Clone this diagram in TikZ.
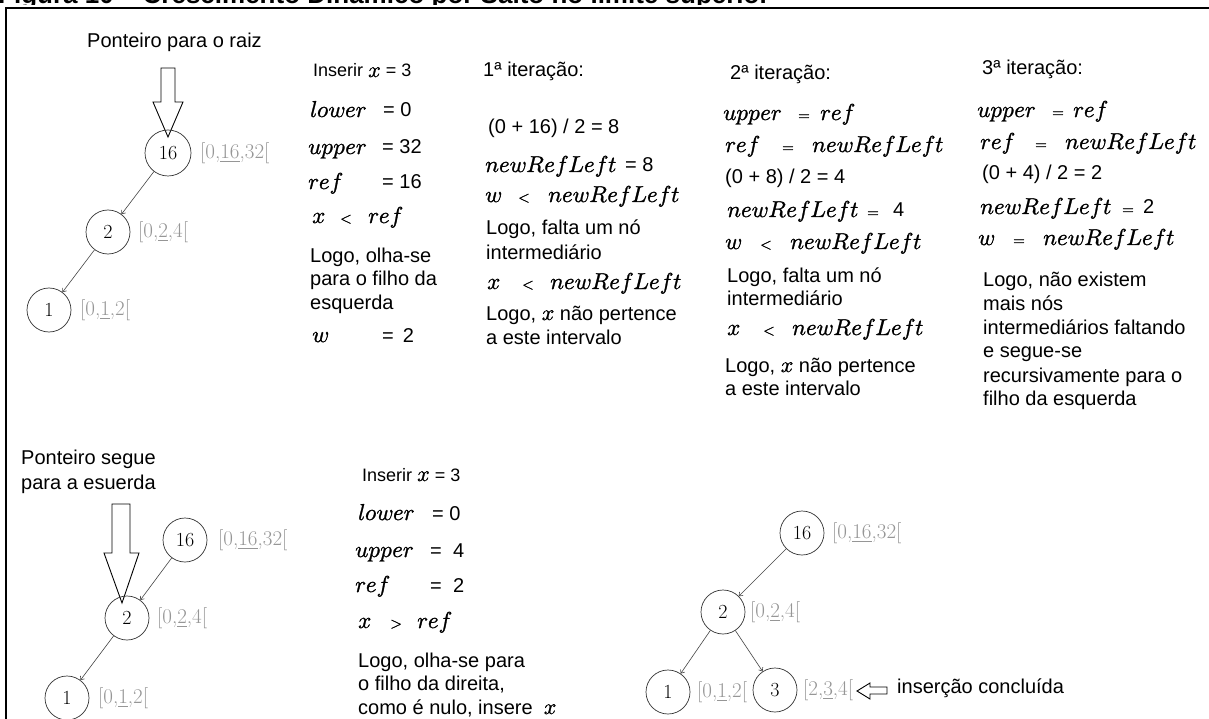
\documentclass[tikz,border=0pt]{standalone}
\usepackage{fontspec}
\usepackage{unicode-math}
\setmathfont{Latin Modern Math}[FakeBold=1.2]
\newfontfamily\arial{Liberation Sans}
\usetikzlibrary{arrows.meta}
\definecolor{lbl}{RGB}{150,150,150}
\definecolor{edgec}{RGB}{70,70,70}
\newcommand\mx{{\fontsize{22}{22}\selectfont$x$}}
\tikzset{
  txt/.style={anchor=base west, inner sep=0pt, font=\arial\fontsize{20}{23}\selectfont},
  smalltxt/.style={anchor=base west, inner sep=0pt, font=\arial\fontsize{18}{21}\selectfont},
  mth/.style={anchor=base west, inner sep=0pt, font=\fontsize{23}{27}\selectfont},
  rel/.style={anchor=base west, inner sep=0pt, font=\fontsize{15}{18}\selectfont},
  tnode/.style={circle, draw=black!80, line width=0.7pt, minimum size=44pt, inner sep=0pt, font=\fontsize{20}{24}\selectfont},
  lab/.style={anchor=west, inner sep=0pt, text=lbl, font=\fontsize{21}{24}\selectfont},
  edg/.style={draw=edgec, line width=0.6pt, -{Straight Barb[length=3pt,width=5pt]}},
  hollow/.style={draw=black, line width=0.9pt, fill=white},
}
\begin{document}
\begin{tikzpicture}[x=1pt,y=-1pt]
\useasboundingbox (0,0) rectangle (1209,719);
% title (cut off at top) and frame
\node[anchor=base west, inner sep=0pt, font=\arial\bfseries\fontsize{26}{29}\selectfont] (title) at (-2,4) {Figura 10 – Crescimento Dinâmico por Salto no limite superior};
\fill[white] (0,5.5) rectangle (1209,719);
\draw[line width=1.3pt] (6,719) -- (6,8) -- (1209,8);

% ===== top-left tree
\node[txt] (p1) at (87,48) {Ponteiro para o raiz};
\draw[hollow] (161,68) -- (175,68) -- (175,102) -- (183,102) -- (168,137) -- (153,102) -- (161,102) -- cycle;
\node[tnode, minimum size=46pt] (a16) at (168,153) {16};
\node[tnode] (a2) at (108,232) {2};
\node[tnode] (a1) at (49,310) {1};
\node[lab] (la16) at (200,153) {[0,\underline{16},32[};
\node[lab] (la2) at (138,232) {[0,\underline{2},4[};
\node[lab] (la1) at (80,310) {[0,\underline{1},2[};
\draw[edg] (a16) -- (a2);
\draw[edg] (a2) -- (a1);

% ===== column 1
\node[smalltxt] (c1a) at (313,77) {Inserir \mx{} = 3};
\node[mth] (c1b) at (310,117) {$lower$};
\node[txt] (c1b2) at (383,117) {= 0};
\node[mth] (c1c) at (308,154) {$upper$};
\node[txt] (c1c2) at (382,154) {= 32};
\node[mth] (c1d) at (308,189) {$ref$};
\node[txt] (c1d2) at (382,189) {= 16};
\node[mth] (c1e) at (312,223) {$x$};
\node[rel] (c1e2) at (340,223) {$<$};
\node[mth] (c1e3) at (368,223) {$ref$};
\node[txt] (c1f) at (310,262) {Logo, olha-se};
\node[txt] (c1g) at (310,285) {para o filho da};
\node[txt] (c1h) at (310,309) {esquerda};
\node[mth] (c1i) at (312,342) {$w$};
\node[txt] (c1i2) at (382,342) {=\hspace{9pt}2};

% ===== column 2
\node[txt] (c2a) at (483,77) {1ª iteração:};
\node[txt] (c2b) at (488,134) {(0 + 16) / 2 = 8};
\node[mth] (c2c) at (485,172) {$newRefLeft$};
\node[txt] (c2c2) at (625,172) {= 8};
\node[mth] (c2d) at (485,202) {$w$};
\node[rel] (c2d2) at (518,202) {$<$};
\node[mth] (c2d3) at (548,202) {$newRefLeft$};
\node[txt] (c2e) at (486,235) {Logo, falta um nó};
\node[txt] (c2f) at (486,259) {intermediário};
\node[mth] (c2g) at (487,289) {$x$};
\node[rel] (c2g2) at (522,289) {$<$};
\node[mth] (c2g3) at (550,289) {$newRefLeft$};
\node[txt] (c2h) at (486,320) {Logo, \mx{} não pertence};
\node[txt] (c2i) at (486,344) {a este intervalo};

% ===== column 3
\node[txt] (c3a) at (730,80) {2ª iteração:};
\node[mth] (c3b) at (723,120) {$upper$};
\node[rel] (c3b2) at (798,120) {$=$};
\node[mth] (c3b3) at (820,120) {$ref$};
\node[mth] (c3c) at (725,152) {$ref$};
\node[rel] (c3c2) at (782,152) {$=$};
\node[mth] (c3c3) at (812,152) {$newRefLeft$};
\node[txt] (c3d) at (725,184) {(0 + 8) / 2 = 4};
\node[mth] (c3e) at (727,217) {$newRefLeft$};
\node[rel] (c3e2) at (867,217) {$=$};
\node[txt] (c3e3) at (893,217) {4};
\node[mth] (c3f) at (725,249) {$w$};
\node[rel] (c3f2) at (760,249) {$<$};
\node[mth] (c3f3) at (790,249) {$newRefLeft$};
\node[txt] (c3g) at (727,282) {Logo, falta um nó};
\node[txt] (c3h) at (727,305) {intermediário};
\node[mth] (c3i) at (727,335) {$x$};
\node[rel] (c3i2) at (763,335) {$<$};
\node[mth] (c3i3) at (792,335) {$newRefLeft$};
\node[txt] (c3j) at (725,372) {Logo, \mx{} não pertence};
\node[txt] (c3k) at (725,395) {a este intervalo};

% ===== column 4
\node[txt] (c4a) at (982,75) {3ª iteração:};
\node[mth] (c4b) at (977,117) {$upper$};
\node[rel] (c4b2) at (1052,117) {$=$};
\node[mth] (c4b3) at (1073,117) {$ref$};
\node[mth] (c4c) at (980,149) {$ref$};
\node[rel] (c4c2) at (1035,149) {$=$};
\node[mth] (c4c3) at (1065,149) {$newRefLeft$};
\node[txt] (c4d) at (982,180) {(0 + 4) / 2 = 2};
\node[mth] (c4e) at (980,214) {$newRefLeft$};
\node[rel] (c4e2) at (1122,214) {$=$};
\node[txt] (c4e3) at (1143,214) {2};
\node[mth] (c4f) at (978,245) {$w$};
\node[rel] (c4f2) at (1013,245) {$=$};
\node[mth] (c4f3) at (1043,245) {$newRefLeft$};
\node[txt] (c4g) at (983,287) {Logo, não existem};
\node[txt] (c4h) at (983,310) {mais nós};
\node[txt] (c4i) at (983,334) {intermediários faltando};
\node[txt] (c4j) at (983,357) {e segue-se};
\node[txt] (c4k) at (983,382) {recursivamente para o};
\node[txt] (c4l) at (983,405) {filho da esquerda};

% ===== bottom-left tree
\node[txt] (p2) at (21,464) {Ponteiro segue};
\node[txt] (p3) at (21,489) {para a esuerda};
\draw[hollow] (112,504) -- (130,504) -- (130,553) -- (139,553) -- (122,603) -- (104,553) -- (112,553) -- cycle;
\node[tnode] (b16) at (185,540) {16};
\node[tnode] (b2) at (127,618) {2};
\node[tnode] (b1) at (67,698) {1};
\node[lab] (lb16) at (218,540) {[0,\underline{16},32[};
\node[lab] (lb2) at (157,618) {[0,\underline{2},4[};
\node[lab] (lb1) at (98,698) {[0,\underline{1},2[};
\draw[edg] (b16) -- (b2);
\draw[edg] (b2) -- (b1);

% ===== bottom-middle
\node[smalltxt] (d1) at (362,481) {Inserir \mx{} = 3};
\node[mth] (d2) at (358,520) {$lower$};
\node[txt] (d22) at (432,520) {= 0};
\node[mth] (d3) at (355,557) {$upper$};
\node[txt] (d32) at (430,557) {=};
\node[txt] (d33) at (453,557) {4};
\node[mth] (d4) at (355,592) {$ref$};
\node[txt] (d42) at (430,592) {=};
\node[txt] (d43) at (453,592) {2};
\node[mth] (d5) at (358,628) {$x$};
\node[rel] (d52) at (390,628) {$>$};
\node[mth] (d53) at (417,628) {$ref$};
\node[txt] (d6) at (358,667) {Logo, olha-se para};
\node[txt] (d7) at (358,690) {o filho da direita,};
\node[txt] (d8) at (358,714) {como é nulo, insere \ \mx};

% ===== bottom-right tree
\node[tnode] (e16) at (802,533) {16};
\node[tnode] (e2) at (723,612) {2};
\node[tnode] (e1) at (668,692) {1};
\node[tnode] (e3) at (775,690) {3};
\node[lab] (le16) at (832,533) {[0,\underline{16},32[};
\node[lab] (le2) at (750,612) {[0,\underline{2},4[};
\node[lab] (le1) at (697,692) {[0,\underline{1},2[};
\node[lab] (le3) at (803,690) {[2,\underline{3},4[};
\draw[edg] (e16) -- (e2);
\draw[edg] (e2) -- (e1);
\draw[edg] (e2) -- (e3);
\draw[hollow] (887,687) -- (887,694) -- (870,694) -- (870,699) -- (857,691) -- (870,683) -- (870,687) -- cycle;
\node[txt] (ins) at (897,693) {inserção concluída};
\end{tikzpicture}
\end{document}
